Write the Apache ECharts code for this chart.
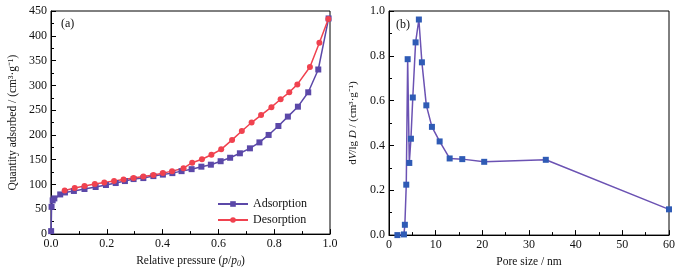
<!DOCTYPE html>
<html><head><meta charset="utf-8">
<script src="https://cdn.jsdelivr.net/npm/echarts@6/dist/echarts.min.js"></script>
<style>html,body{margin:0;padding:0;background:#fff}#c{width:682px;height:273px}</style>
</head><body><div id="c"></div>
<script>
const adsP = [0.0005,0.002,0.006,0.012,0.033,0.05,0.082,0.12,0.16,0.197,0.232,0.265,0.296,0.331,0.367,0.401,0.435,0.468,0.504,0.539,0.573,0.608,0.642,0.677,0.713,0.747,0.780,0.815,0.849,0.885,0.922,0.958,0.995];
const adsQ = [6,55,68,72,80,84,87,91,95,99,103,107,111,113,117,120,123,127,131,136,140,147,154,163,173,185,200,218,237,257,286,332,435];
const desP = [0.049,0.085,0.12,0.157,0.191,0.226,0.26,0.296,0.331,0.367,0.401,0.434,0.475,0.506,0.541,0.575,0.61,0.649,0.684,0.719,0.753,0.79,0.823,0.854,0.883,0.928,0.962,0.994];
const desQ = [88,93,97,101,104,107,110,113,116,119,123,127,133,144,151,160,171,190,208,225,240,256,272,286,302,337,386,434];
const poreD = [1.8,3.2,3.4,3.7,4.0,4.35,4.7,5.1,5.7,6.4,7.05,8.0,9.2,10.85,13.0,15.7,20.4,33.6,60];
const poreV = [0.0,0.003,0.046,0.225,0.785,0.322,0.43,0.614,0.86,0.962,0.771,0.579,0.483,0.418,0.342,0.339,0.327,0.336,0.115];

const FONT = 'Liberation Serif';
const adsColor = '#5b48a8', desColor = '#f0424f', psdLine = '#6b52b3', psdMark = '#2f5bb5';
const zip = (a,b) => a.map((v,i)=>[v,b[i]]);
const tx = {fontFamily: FONT, fontSize: 12, color: '#111'};
function axisCommon(){
  return {
    axisLine:{show:true,lineStyle:{color:'#000',width:1}},
    axisTick:{show:true,inside:true,length:5,lineStyle:{color:'#000'}},
    minorTick:{show:true,splitNumber:2,length:3,lineStyle:{color:'#000'}},
    splitLine:{show:false},
    axisLabel:Object.assign({margin:4},tx),
    nameTextStyle:Object.assign({},tx,{fontSize:11.5}),
    nameLocation:'middle'
  };
}
const chart = echarts.init(document.getElementById('c'), null, {renderer:'canvas'});
chart.setOption({
  animation:false,
  textStyle:{fontFamily:FONT},
  grid:[
    {left:51,right:352,top:11,bottom:37,show:true,borderColor:'#000',borderWidth:1,backgroundColor:'transparent'},
    {left:389,right:13,top:11,bottom:37,show:true,borderColor:'#000',borderWidth:1,backgroundColor:'transparent'}
  ],
  xAxis:[
    Object.assign(axisCommon(),{gridIndex:0,type:'value',min:0,max:1,interval:0.2,
      axisLabel:Object.assign({margin:4,formatter:v=>v.toFixed(1)},tx),
      name:'{a|Relative pressure (}{i|p}{a|/}{i|p}{s|0}{a|)}',nameGap:19,
      nameTextStyle:{rich:{a:Object.assign({},tx,{fontSize:11.5}),i:Object.assign({},tx,{fontSize:11.5,fontStyle:'italic'}),s:Object.assign({},tx,{fontSize:8,fontStyle:'italic',padding:[6,0,0,0]})}}}),
    Object.assign(axisCommon(),{gridIndex:1,type:'value',min:0,max:60,interval:10,
      name:'Pore size / nm',nameGap:19})
  ],
  yAxis:[
    Object.assign(axisCommon(),{gridIndex:0,type:'value',min:0,max:450,interval:50,
      name:'Quantity adsorbed / (cm³·g⁻¹)',nameGap:32}),
    Object.assign(axisCommon(),{gridIndex:1,type:'value',min:0,max:1,interval:0.2,
      axisLabel:Object.assign({margin:4,formatter:v=>v.toFixed(1)},tx),
      name:'{a|d}{i|V}{a|/lg }{i|D}{a| / (cm³·g⁻¹)}',nameGap:30,
      nameTextStyle:{rich:{a:Object.assign({},tx,{fontSize:11}),i:Object.assign({},tx,{fontSize:11,fontStyle:'italic'})}}})
  ],
  legend:{
    orient:'vertical',left:212,top:193,itemWidth:30,itemHeight:7,itemGap:4,
    textStyle:Object.assign({},tx,{fontSize:12}),
    data:['Adsorption','Desorption']
  },
  graphic:[
    {type:'text',left:61,top:18,style:{text:'(a)',font:'12px "Liberation Serif"',fill:'#111'}},
    {type:'text',left:396,top:19,style:{text:'(b)',font:'12px "Liberation Serif"',fill:'#111'}}
  ],
  series:[
    {name:'Adsorption',type:'line',xAxisIndex:0,yAxisIndex:0,data:zip(adsP,adsQ),
      symbol:'rect',symbolSize:6,showAllSymbol:true,lineStyle:{color:adsColor,width:1.5},itemStyle:{color:adsColor}},
    {name:'Desorption',type:'line',xAxisIndex:0,yAxisIndex:0,data:zip(desP,desQ),
      symbol:'circle',symbolSize:6,showAllSymbol:true,lineStyle:{color:desColor,width:1.5},itemStyle:{color:desColor}},
    {name:'PSD',type:'line',xAxisIndex:1,yAxisIndex:1,data:zip(poreD,poreV),
      symbol:'rect',symbolSize:6,showAllSymbol:true,lineStyle:{color:psdLine,width:1.5},itemStyle:{color:psdMark}}
  ]
});
</script></body></html>
